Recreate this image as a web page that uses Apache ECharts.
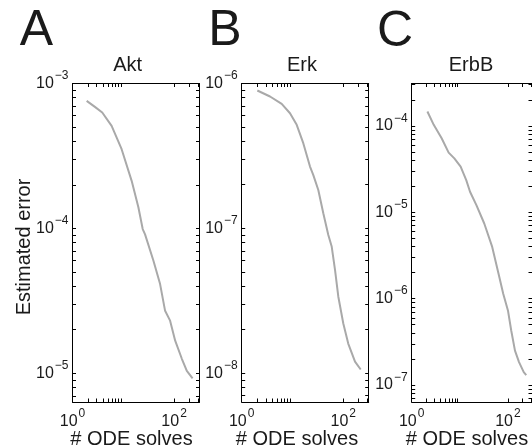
<!DOCTYPE html>
<html>
<head>
<meta charset="utf-8">
<script src="https://cdn.jsdelivr.net/npm/echarts@6/dist/echarts.min.js"></script>
<style>
  html, body { margin: 0; padding: 0; background: #fff; }
  #chart { width: 532px; height: 447px; }
</style>
</head>
<body>
<div id="chart"></div>
<script>
// Estimated error versus number of ODE solves, one panel per model
const panelLetters = ['A', 'B', 'C'];
const panelTitles = ['Akt', 'Erk', 'ErbB'];
const xAxisTitle = '# ODE solves';
const yAxisTitle = 'Estimated error';

const aktSolves = [1.9, 2.76, 3.85, 5.89, 9.27, 14.6, 19.8, 24.1, 26.8, 39.2, 53, 66.5, 83.4, 105, 142, 178, 231];
const aktError  = [7.59e-4, 6.9e-4, 6.31e-4, 5.1e-4, 3.52e-4, 2.13e-4, 1.40e-4, 9.9e-5, 9.1e-5, 5.98e-5, 4.13e-5, 2.70e-5, 2.31e-5, 1.68e-5, 1.26e-5, 1.04e-5, 9.24e-6];

const erkSolves = [2.03, 3.61, 6.13, 8.93, 12.1, 16.3, 22.1, 25.7, 32.2, 40.4, 50.7, 59.1, 68.7, 79.8, 100, 125, 170, 220];
const erkError  = [8.95e-7, 8.13e-7, 7.23e-7, 6.23e-7, 5.18e-7, 3.87e-7, 2.67e-7, 2.33e-7, 1.84e-7, 1.27e-7, 9.0e-8, 7.48e-8, 5.16e-8, 3.37e-8, 2.2e-8, 1.6e-8, 1.2e-8, 1.06e-8];

const erbbSolves = [2.12, 2.87, 4.19, 5.86, 7.69, 10.4, 13.6, 16.3, 22.1, 32.2, 47.1, 63.6, 79.8, 100, 117, 140, 170, 213, 240];
const erbbError  = [1.47e-4, 1.03e-4, 7.2e-5, 4.91e-5, 4.21e-5, 3.38e-5, 2.36e-5, 1.73e-5, 1.21e-5, 7.41e-6, 3.97e-6, 1.95e-6, 1.14e-6, 7.3e-7, 4.27e-7, 2.5e-7, 1.84e-7, 1.41e-7, 1.3e-7];

// axis limits and tick values (data units)
const xLimits = [1, 316.2];
const yLimits = [[6.34e-6, 1e-3], [6.32e-9, 1e-6], [6.35e-8, 3.1e-4]];
const xLabelTicks = [1, 100];
const xMinorTicks = [2, 3, 4, 5, 6, 7, 8, 9, 200, 300];
const yLabelTicks = [[1e-5, 1e-4, 1e-3], [1e-8, 1e-7, 1e-6], [1e-7, 1e-6, 1e-5, 1e-4]];

const panels = [
  { x: aktSolves, y: aktError },
  { x: erkSolves, y: erkError },
  { x: erbbSolves, y: erbbError }
];

const FONT = 'Liberation Sans, Arial, sans-serif';
const INK = '#1a1a1a';
const CURVE = '#a9a9a9';

const gridLeft = [72.5, 241.7, 411.7];
const gridTop = 83.5, gridW = 127, gridH = 318.5;

const lg = Math.log10;

// exponents of minor/major log ticks inside a range
function logTicks(lo, hi) {
  const out = [];
  for (let k = Math.floor(lg(lo)); k <= Math.ceil(lg(hi)); k++) {
    for (let m = 1; m <= 9; m++) {
      const e = k + lg(m);
      if (e >= lg(lo) - 1e-9 && e <= lg(hi) + 1e-9) out.push(e);
    }
  }
  return out;
}

function powLabel(e) {
  const n = Math.round(e);
  const s = n < 0 ? '\u2212' + Math.abs(n) : String(n);
  return '{b|10}{s|' + s + '}';
}

const rich = {
  b: { fontSize: 16, fontFamily: FONT, color: INK },
  s: { fontSize: 12, fontFamily: FONT, color: INK, padding: [0, 0, 15, 1] }
};

const tickStyle = { show: true, inside: true, length: 3.5, lineStyle: { color: '#000', width: 1 } };
const lineStyle = { show: true, onZero: false, lineStyle: { color: '#000', width: 1 } };

const grids = [], xAxes = [], yAxes = [], series = [];
const xTickExp = xLabelTicks.concat(xMinorTicks).map(v => lg(v));

panels.forEach((p, i) => {
  grids.push({ left: gridLeft[i], top: gridTop, width: gridW, height: gridH, containLabel: false });
  const [ylo, yhi] = yLimits[i];
  const yTickExp = logTicks(ylo, yhi);

  // data axes (log scale), not drawn
  xAxes.push({ type: 'log', logBase: 10, gridIndex: i, position: 'bottom', min: xLimits[0], max: xLimits[1], show: false });
  // bottom axis with labels
  xAxes.push({
    type: 'value', gridIndex: i, position: 'bottom', min: lg(xLimits[0]), max: lg(xLimits[1]),
    axisLine: lineStyle, splitLine: { show: false },
    axisTick: Object.assign({ customValues: xTickExp }, tickStyle),
    axisLabel: { customValues: xLabelTicks.map(v => lg(v)), margin: 6, formatter: powLabel, rich: rich }
  });
  // top axis, ticks only
  xAxes.push({
    type: 'value', gridIndex: i, position: 'top', min: lg(xLimits[0]), max: lg(xLimits[1]),
    axisLine: lineStyle, splitLine: { show: false },
    axisTick: Object.assign({ customValues: xTickExp }, tickStyle),
    axisLabel: { show: false }
  });

  yAxes.push({ type: 'log', logBase: 10, gridIndex: i, position: 'left', min: ylo, max: yhi, show: false });
  yAxes.push({
    type: 'value', gridIndex: i, position: 'left', min: lg(ylo), max: lg(yhi),
    axisLine: lineStyle, splitLine: { show: false },
    axisTick: Object.assign({ customValues: yTickExp }, tickStyle),
    axisLabel: { customValues: yLabelTicks[i].map(v => lg(v)), margin: 4, formatter: powLabel, rich: rich }
  });
  yAxes.push({
    type: 'value', gridIndex: i, position: 'right', min: lg(ylo), max: lg(yhi),
    axisLine: lineStyle, splitLine: { show: false },
    axisTick: Object.assign({ customValues: yTickExp }, tickStyle),
    axisLabel: { show: false }
  });

  series.push({
    type: 'line',
    name: panelTitles[i],
    xAxisIndex: 3 * i,
    yAxisIndex: 3 * i,
    data: p.x.map((v, k) => [v, p.y[k]]),
    showSymbol: false,
    symbol: 'none',
    lineStyle: { color: CURVE, width: 2 },
    silent: true
  });
});

// free-standing text: panel letters, titles, axis names
const letterPos = [[36.5, 31.5], [225, 31], [395, 32]];
const titlePos = [[127.7, 65.5], [302, 65.5], [471, 65.5]];
const xNamePos = [[131.5, 439.5], [297, 439.5], [467, 439.5]];

const graphic = [];
panelLetters.forEach((t, i) => {
  graphic.push({ type: 'text', x: letterPos[i][0], y: letterPos[i][1], silent: true,
    style: { text: t, font: '50px ' + FONT, fill: INK, align: 'center', verticalAlign: 'middle' } });
  graphic.push({ type: 'text', x: titlePos[i][0], y: titlePos[i][1], silent: true,
    style: { text: panelTitles[i], font: '20px ' + FONT, fill: INK, align: 'center', verticalAlign: 'middle' } });
  graphic.push({ type: 'text', x: xNamePos[i][0], y: xNamePos[i][1], silent: true,
    style: { text: xAxisTitle, font: '20px ' + FONT, fill: INK, align: 'center', verticalAlign: 'middle' } });
});
graphic.push({ type: 'text', x: 24, y: 247, rotation: Math.PI / 2, silent: true,
  style: { text: yAxisTitle, font: '20px ' + FONT, fill: INK, align: 'center', verticalAlign: 'middle' } });

const chart = echarts.init(document.getElementById('chart'), null, { renderer: 'canvas' });
chart.setOption({
  animation: false,
  backgroundColor: '#fff',
  grid: grids,
  xAxis: xAxes,
  yAxis: yAxes,
  series: series,
  graphic: graphic
});
</script>
</body>
</html>
